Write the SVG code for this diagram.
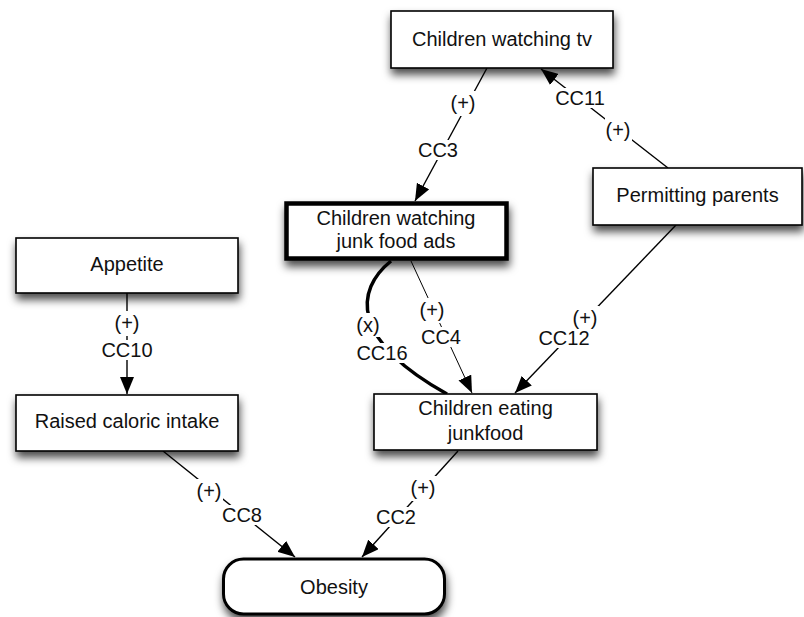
<svg xmlns="http://www.w3.org/2000/svg" width="804" height="617" viewBox="0 0 804 617">
  <style>
    .box { fill: #ffffff; stroke: #000000; stroke-width: 1.6; }
    .bold { stroke-width: 4.5; }
    .oval { stroke-width: 3; }
    .txt { font-family: "Liberation Sans", Arial, sans-serif; font-size: 20px; fill: #111111; text-anchor: middle; }
    .lbl { font-family: "Liberation Sans", Arial, sans-serif; font-size: 20px; fill: #111111; text-anchor: middle; }
    .edge { fill: none; stroke: #000000; stroke-width: 1.4; }
    .thick { stroke-width: 3.5; }
    .thin { stroke-width: 1; }
    .bg { fill: #ffffff; }
  </style>
  <defs>
    <filter id="shadow" x="-10%" y="-20%" width="125%" height="170%">
      <feDropShadow dx="1" dy="6" stdDeviation="4" flood-color="#000000" flood-opacity="0.7"/>
    </filter>
    <marker id="arrow" markerUnits="userSpaceOnUse" markerWidth="18" markerHeight="14" refX="17" refY="7" orient="auto">
      <path d="M0,0 L17,7 L0,14 Z" fill="#000000"/>
    </marker>
  </defs>

  <rect width="804" height="617" fill="#ffffff"/>

  <!-- connectors -->
  <g id="connectors">
    <line class="edge" x1="487" y1="68" x2="415" y2="201" marker-end="url(#arrow)"/>
    <line class="edge" x1="668" y1="168" x2="541" y2="69" marker-end="url(#arrow)"/>
    <line class="edge thin" x1="411" y1="261" x2="472" y2="393" marker-end="url(#arrow)"/>
    <path class="edge thick" d="M391,261 C355,290 350,340 447,394"/>
    <line class="edge" x1="676" y1="225" x2="515" y2="393" marker-end="url(#arrow)"/>
    <line class="edge" x1="127" y1="293" x2="127" y2="394" marker-end="url(#arrow)"/>
    <line class="edge" x1="163" y1="451" x2="295" y2="557" marker-end="url(#arrow)"/>
    <line class="edge" x1="458" y1="451" x2="362" y2="557" marker-end="url(#arrow)"/>

    <!-- label backgrounds -->
    <rect class="bg" x="450" y="91" width="27" height="25"/>
    <rect class="bg" x="419" y="140" width="38" height="20"/>
    <rect class="bg" x="553" y="88" width="54" height="20"/>
    <rect class="bg" x="605" y="118" width="27" height="25"/>
    <rect class="bg" x="419" y="298" width="27" height="25"/>
    <rect class="bg" x="422" y="327" width="38" height="20"/>
    <rect class="bg" x="355" y="313" width="26" height="24"/>
    <rect class="bg" x="355" y="343" width="54" height="20"/>
    <rect class="bg" x="572" y="306" width="27" height="25"/>
    <rect class="bg" x="537" y="328" width="54" height="20"/>
    <rect class="bg" x="114" y="311" width="27" height="25"/>
    <rect class="bg" x="100" y="340" width="54" height="20"/>
    <rect class="bg" x="196" y="479" width="27" height="25"/>
    <rect class="bg" x="223" y="505" width="38" height="20"/>
    <rect class="bg" x="410" y="476" width="27" height="25"/>
    <rect class="bg" x="377" y="507" width="38" height="20"/>

    <!-- labels -->
    <text class="lbl" x="463" y="110">(+)</text>
    <text class="lbl" x="438" y="157">CC3</text>
    <text class="lbl" x="580" y="105">CC11</text>
    <text class="lbl" x="618" y="137">(+)</text>
    <text class="lbl" x="432" y="317">(+)</text>
    <text class="lbl" x="441" y="344">CC4</text>
    <text class="lbl" x="368" y="332">(x)</text>
    <text class="lbl" x="382" y="360">CC16</text>
    <text class="lbl" x="585" y="325">(+)</text>
    <text class="lbl" x="564" y="345">CC12</text>
    <text class="lbl" x="127" y="330">(+)</text>
    <text class="lbl" x="127" y="357">CC10</text>
    <text class="lbl" x="209" y="498">(+)</text>
    <text class="lbl" x="242" y="522">CC8</text>
    <text class="lbl" x="423" y="495">(+)</text>
    <text class="lbl" x="396" y="524">CC2</text>
  </g>

  <!-- nodes -->
  <g id="tv">
    <rect class="box" x="391" y="11" width="222" height="57" filter="url(#shadow)"/>
    <text class="txt" x="502" y="46">Children watching tv</text>
  </g>
  <g id="ads">
    <rect class="box bold" x="286.5" y="203.5" width="220" height="55" filter="url(#shadow)"/>
    <text class="txt" x="396" y="225">Children watching</text>
    <text class="txt" x="396" y="248">junk food ads</text>
  </g>
  <g id="parents">
    <rect class="box" x="593" y="168" width="209" height="57" filter="url(#shadow)"/>
    <text class="txt" x="697.5" y="202">Permitting parents</text>
  </g>
  <g id="appetite">
    <rect class="box" x="16" y="238" width="222" height="55" filter="url(#shadow)"/>
    <text class="txt" x="127" y="271">Appetite</text>
  </g>
  <g id="caloric">
    <rect class="box" x="16" y="395" width="222" height="56" filter="url(#shadow)"/>
    <text class="txt" x="127" y="428">Raised caloric intake</text>
  </g>
  <g id="junkfood">
    <rect class="box" x="374" y="394" width="223" height="56" filter="url(#shadow)"/>
    <text class="txt" x="485.5" y="415">Children eating</text>
    <text class="txt" x="485.5" y="440">junkfood</text>
  </g>
  <g id="obesity">
    <rect class="box oval" x="223.5" y="559" width="221" height="55" rx="20" ry="20" filter="url(#shadow)"/>
    <text class="txt" x="334" y="594">Obesity</text>
  </g>
</svg>
